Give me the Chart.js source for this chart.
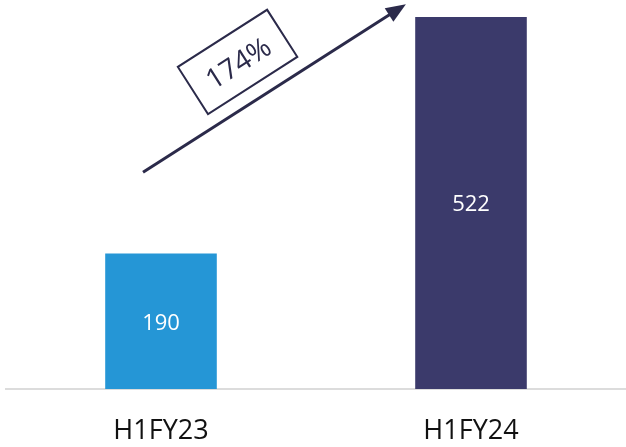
<!DOCTYPE html>
<html>
<head>
<meta charset="utf-8">
<script src="https://cdn.jsdelivr.net/npm/chart.js@4.4.0/dist/chart.umd.min.js"></script>
<style>
  html, body { margin:0; padding:0; background:#fff }
  #wrap { width:626px; height:447px; position:relative }
</style>
</head>
<body>
<div id="wrap"><canvas id="growthChart"></canvas></div>
<script>
// Data
const periods = ['H1FY23', 'H1FY24']
const values = [190, 522]
const barColors = ['#2596d6', '#3b3a6b']
const growthLabel = '174%'

const FONT = "'Open Sans', 'Noto Sans', sans-serif"
const INK = '#2b2a4a'

let growthChart

// draws the value inside each bar, centred
const valueLabels = {
  id: 'valueLabels',
  afterDatasetsDraw(chart) {
    const ctx = chart.ctx
    const meta = chart.getDatasetMeta(0)
    ctx.save()
    ctx.fillStyle = '#fff'
    ctx.font = '22px ' + FONT
    ctx.textAlign = 'center'
    ctx.textBaseline = 'middle'
    meta.data.forEach((bar, i) => {
      ctx.fillText(values[i], bar.x, (bar.y + bar.base) / 2 + 2)
    })
    ctx.restore()
  }
}

// growth arrow + tilted box, placed in value space
const growthArrow = {
  id: 'growthArrow',
  afterDraw(chart) {
    const x = chart.scales.x, y = chart.scales.y
    const ctx = chart.ctx
    const x0 = x.getPixelForValue(-0.058), y0 = y.getPixelForValue(304)
    const x1 = x.getPixelForValue(0.79), y1 = y.getPixelForValue(540)
    const ang = Math.atan2(y1 - y0, x1 - x0)

    ctx.save()
    ctx.strokeStyle = INK
    ctx.fillStyle = INK
    ctx.lineWidth = 3
    ctx.beginPath()
    ctx.moveTo(x0, y0)
    ctx.lineTo(x1 - 14 * Math.cos(ang), y1 - 14 * Math.sin(ang))
    ctx.stroke()
    // head
    ctx.translate(x1, y1)
    ctx.rotate(ang)
    ctx.beginPath()
    ctx.moveTo(0, 0)
    ctx.lineTo(-20, -8)
    ctx.lineTo(-20, 8)
    ctx.closePath()
    ctx.fill()
    ctx.restore()

    // box
    const cx = x.getPixelForValue(0.247), cy = y.getPixelForValue(459)
    ctx.save()
    ctx.translate(cx, cy)
    ctx.rotate(ang)
    ctx.strokeStyle = INK
    ctx.lineWidth = 2
    ctx.strokeRect(-53, -28, 106, 56)
    ctx.fillStyle = INK
    ctx.font = '28px ' + FONT
    ctx.textAlign = 'center'
    ctx.textBaseline = 'middle'
    ctx.fillText(growthLabel, 0, 3)
    ctx.restore()
  }
}

function initChart() {
  const ctx = document.getElementById('growthChart')
  growthChart = new Chart(ctx, {
    type: 'bar',
    data: {
      labels: periods,
      datasets: [{ data: values, backgroundColor: barColors, barPercentage: 0.72, categoryPercentage: 0.5 }]
    },
    options: {
      responsive: true,
      maintainAspectRatio: false,
      animation: false,
      layout: { padding: { top: 17, left: 6, right: 0, bottom: 0 } },
      plugins: { legend: { display: false }, tooltip: { enabled: false } },
      scales: {
        x: {
          grid: { display: false, drawTicks: false },
          border: { display: true, color: '#dcdcdc', width: 2 },
          ticks: { color: '#111', font: { family: FONT, size: 27 }, padding: 26 },
          afterFit(scale) { scale.height = 58 }
        },
        y: { display: false, min: 0, max: 522 }
      }
    },
    plugins: [valueLabels, growthArrow]
  })
}

document.addEventListener('DOMContentLoaded', initChart)
</script>
</body>
</html>
